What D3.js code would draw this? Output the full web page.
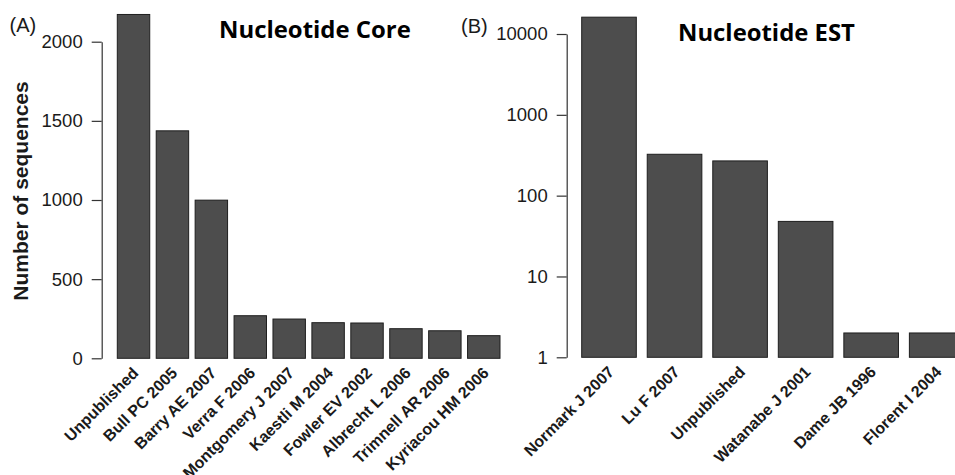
<!DOCTYPE html>
<html>
<head>
<meta charset="utf-8">
<script src="https://cdn.jsdelivr.net/npm/d3@7"></script>
<style>
  html, body { margin: 0; padding: 0; background: #fff; }
  svg { display: block; }
</style>
</head>
<body>
<svg id="chart" width="955" height="475"></svg>
<script>
// ---- Data ----
const coreCategories = ["Unpublished", "Bull PC 2005", "Barry AE 2007", "Verra F 2006", "Montgomery J 2007",
  "Kaestli M 2004", "Fowler EV 2002", "Albrecht L 2006", "Trimnell AR 2006", "Kyriacou HM 2006"];
const coreValues = [2172, 1437, 999, 269, 248, 225, 223, 187, 174, 143];
const coreTicks = [0, 500, 1000, 1500, 2000];

const estCategories = ["Normark J 2007", "Lu F 2007", "Unpublished", "Watanabe J 2001", "Dame JB 1996", "Florent I 2004"];
const estValues = [16150, 325, 269, 48, 2, 2];
const estTicks = [1, 10, 100, 1000, 10000];

const svg = d3.select("#chart");
const barFill = "#4d4d4d", barStroke = "#1e1e1e", axisColor = "#333", textColor = "#1a1a1a";
const tickFont = "Liberation Sans, Arial, sans-serif";

function fitText(sel, targetWidth, size) {
  sel.attr("font-size", size);
  const w = sel.node().getComputedTextLength();
  sel.attr("font-size", size * targetWidth / w);
}

function panel(opts) {
  const g = svg.append("g");
  const x = d3.scaleBand().domain(opts.categories).range(opts.xRange).paddingInner(1/6).paddingOuter(0);
  const y = opts.y;
  // bars
  g.selectAll("rect").data(opts.values).join("rect")
    .attr("x", (d, i) => x(opts.categories[i]))
    .attr("width", x.bandwidth())
    .attr("y", d => y(d))
    .attr("height", d => y(opts.base) - y(d))
    .attr("fill", barFill)
    .attr("stroke", barStroke)
    .attr("stroke-width", 1);
  // y axis
  const axis = d3.axisLeft(y).tickValues(opts.ticks).tickSizeOuter(0).tickSizeInner(10).tickPadding(9)
    .tickFormat(d3.format("d"));
  const ag = g.append("g").attr("transform", `translate(${opts.axisX},0)`).call(axis);
  ag.select(".domain").attr("stroke", axisColor).attr("stroke-width", 1.2);
  ag.selectAll(".tick line").attr("stroke", axisColor).attr("stroke-width", 1.2);
  ag.selectAll(".tick text").attr("font-family", tickFont).attr("font-size", 18.5).attr("fill", textColor);
  // x labels
  g.selectAll("text.xl").data(opts.categories).join("text")
    .attr("class", "xl")
    .attr("transform", d => `translate(${x(d) + x.bandwidth() / 2 + opts.labelDx},${opts.labelY}) rotate(-45)`)
    .attr("text-anchor", "end")
    .attr("dy", "0.35em")
    .attr("font-family", tickFont)
    .attr("font-weight", "bold")
    .attr("font-size", 16)
    .attr("fill", textColor)
    .text(d => d);
  // title
  const t = g.append("text")
    .attr("x", opts.titleX).attr("y", opts.titleY)
    .attr("font-family", "Open Sans, sans-serif")
    .attr("font-weight", "bold")
    .attr("fill", "#000")
    .text(opts.title);
  fitText(t, opts.titleW, 24);
  // panel letter
  g.append("text")
    .attr("x", opts.letterX).attr("y", opts.letterY)
    .attr("font-family", tickFont).attr("font-size", 20).attr("fill", textColor)
    .text(opts.letter);
}

panel({
  categories: coreCategories, values: coreValues, ticks: coreTicks, base: 0,
  y: d3.scaleLinear().domain([0, 2000]).range([358.3, 41.7]),
  xRange: [117.3, 500], axisX: 101.7, labelDx: 2, labelY: 370,
  title: "Nucleotide Core", titleX: 219, titleY: 37.5, titleW: 192,
  letter: "(A)", letterX: 9.5, letterY: 31.5
});

panel({
  categories: estCategories, values: estValues, ticks: estTicks, base: 1,
  y: d3.scaleLog().domain([1, 10000]).range([357.3, 34]),
  xRange: [581.7, 964], axisX: 566.7, labelDx: 2, labelY: 369,
  title: "Nucleotide EST", titleX: 678, titleY: 41, titleW: 177,
  letter: "(B)", letterX: 461, letterY: 33.3
});

// y axis label
svg.append("text")
  .attr("transform", "translate(28.3,191) rotate(-90)")
  .attr("text-anchor", "middle")
  .attr("font-family", tickFont)
  .attr("font-weight", "bold")
  .attr("font-size", 21)
  .attr("fill", textColor)
  .text("Number of sequences");
</script>
</body>
</html>
